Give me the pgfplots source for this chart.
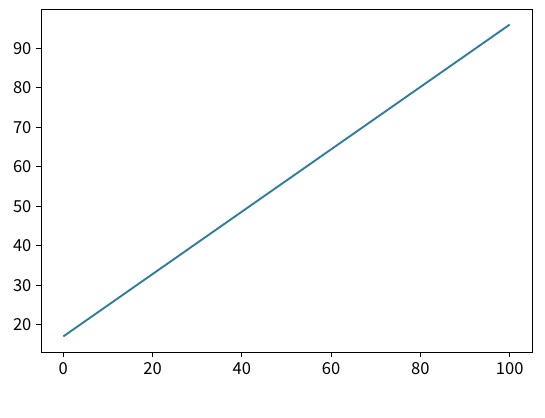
\documentclass[border=0pt]{standalone}
\usepackage{fontspec}
\setmainfont{Noto Sans CJK KR}
\usepackage{pgfplots}
\pgfplotsset{compat=1.18}
\definecolor{lineblue}{RGB}{42,125,160}
\begin{document}
\begin{tikzpicture}
\begin{axis}[
  scale only axis,
  width=368.25pt, height=257.25pt,
  xmin=-5, xmax=105, ymin=13.05, ymax=99.95,
  xtick={0,20,40,60,80,100},
  ytick={20,30,40,50,60,70,80,90},
  tick align=outside,
  tick pos=left,
  major tick length=3.65pt,
  every tick/.style={black, line width=0.6pt},
  axis line style={line width=0.6pt},
  tick label style={font=\fontsize{12.4}{14}\selectfont},
  /pgf/number format/assume math mode=true,
  xticklabel style={yshift=-1pt},
]
\addplot[lineblue, line width=1.4pt, no marks] coordinates {(0,17) (100,96)};
\end{axis}
\pgfresetboundingbox
\path (current axis.south west) ++(-30.75pt,-48.75pt) coordinate (bl);
\path (current axis.north east) ++(9.75pt,6.75pt) coordinate (tr);
\useasboundingbox (bl) rectangle (tr);
\end{tikzpicture}
\end{document}
